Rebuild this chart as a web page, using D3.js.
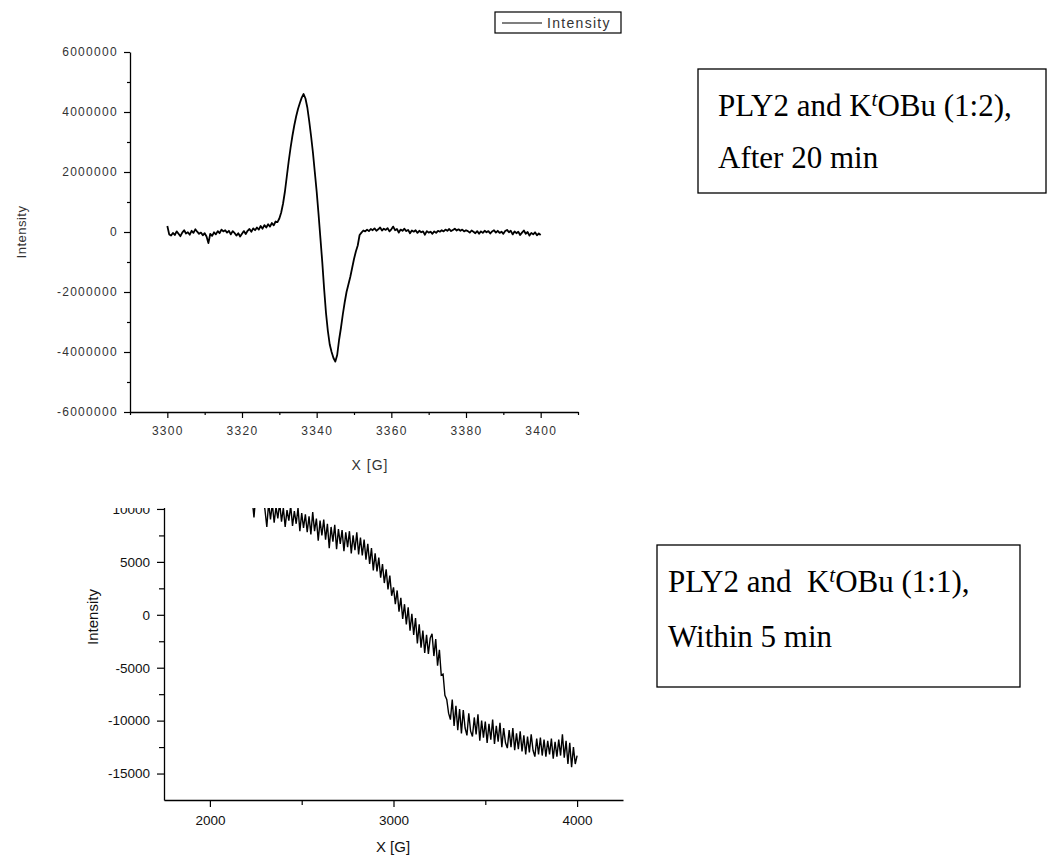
<!DOCTYPE html>
<html>
<head>
<meta charset="utf-8">
<script src="https://cdn.jsdelivr.net/npm/d3@7"></script>
<style>
body { margin: 0; background: #fff; }
svg { display: block; }
</style>
</head>
<body>
<svg id="chart" width="1047" height="861"></svg>
<script>

// ---- top spectrum (1:2, after 20 min), sampled every 0.5 G, values in thousands
var top_x_start = 3300
var top_x_step = 0.5
var top_intensity_k = [
	200,-80,-120,-30,-100,20,-60,-140,-20,60,
	-50,-10,-90,40,-30,90,10,-60,-20,-110,
	-40,-150,-370,-60,-130,-10,-80,30,-40,80,
	20,60,-20,40,-80,30,-30,-120,-40,-150,
	-60,30,-70,40,100,10,120,60,150,80,
	200,110,230,150,260,180,300,220,350,330,
	450,650,950,1350,1850,2350,2800,3200,3550,3850,
	4100,4300,4480,4600,4450,4150,3700,3200,2650,2000,
	1350,600,-200,-1000,-1900,-2700,-3300,-3750,-4000,-4200,
	-4320,-4100,-3600,-3200,-2750,-2350,-2000,-1750,-1500,-1200,
	-900,-650,-450,-100,-20,50,20,80,30,100,
	60,120,40,90,150,50,110,70,130,20,
	90,180,60,100,-20,80,40,110,30,70,
	-40,50,10,60,-30,40,-10,20,-90,30,
	-20,10,-60,20,-30,40,10,60,20,80,
	40,100,30,70,110,50,90,40,80,20,
	60,30,-20,50,10,-40,30,-60,20,-30,
	40,-10,30,-50,20,60,-20,40,-30,10,
	-60,30,70,-10,40,-80,20,-40,10,-100,
	-20,50,-60,0,-120,-30,-80,-10,-110,-50,
	-100
]
var top_x_domain = [3290, 3410]
var top_y_domain = [-6000000, 6000000]
var top_x_ticks = [3300, 3320, 3340, 3360, 3380, 3400]
var top_x_minor = [3290, 3310, 3330, 3350, 3370, 3390, 3410]
var top_y_ticks = [-6000000, -4000000, -2000000, 0, 2000000, 4000000, 6000000]
var top_y_minor = [-5000000, -3000000, -1000000, 1000000, 3000000, 5000000]

// ---- bottom spectrum (1:1, within 5 min), sampled every 10 G
var bottom_x_start = 2230
var bottom_x_step = 10
var bottom_intensity = [
	11000,9200,11300,10400,11600,10200,11100,9900,8300,10600,
	9000,10500,8700,10200,9100,10600,8800,10100,8300,9900,
	8900,10300,8400,9800,8600,10100,7900,9600,8200,9500,
	7800,9300,7600,9700,7900,9100,7000,8900,7500,9000,
	7100,8600,6300,8300,6900,8500,6200,8100,6700,8000,
	6000,7800,6400,7900,5800,7500,6100,7800,5700,7300,
	5600,7100,5200,6700,4800,6300,4200,5800,4100,5400,
	3500,4800,3000,4300,2400,3700,1800,2600,1000,2300,
	300,1600,-400,1000,-900,700,-1500,100,-1900,-300,
	-2700,-900,-3100,-1500,-3600,-1900,-3700,-2200,-1800,-3900,
	-2300,-4800,-3300,-5700,-5600,-7600,-8000,-9300,-9900,-8000,
	-10500,-8600,-10900,-8900,-11200,-9000,-10700,-11400,-9300,-11000,
	-11500,-9700,-11300,-9400,-11900,-10000,-11600,-10100,-12100,-10300,
	-11800,-9900,-12200,-10500,-12000,-10200,-12500,-10700,-12100,-12600,
	-10900,-12500,-10700,-12800,-11200,-12700,-11000,-12900,-11400,-13200,
	-11500,-13000,-11300,-12800,-13400,-11700,-13200,-11600,-13300,-11800,
	-13400,-11900,-13200,-11700,-13600,-12000,-13400,-11800,-13300,-11300,
	-13500,-11900,-14100,-12100,-14400,-12500,-14100,-13300
]
var bottom_x_domain = [1750, 4250]
var bottom_y_domain = [-17500, 12500]
var bottom_x_ticks = [2000, 3000, 4000]
var bottom_x_minor = [2500, 3500]
var bottom_y_ticks = [-15000, -10000, -5000, 0, 5000, 10000]
var bottom_y_minor = [-12500, -7500, -2500, 2500, 7500]

var note_top = ["PLY2 and K", "t", "OBu (1:2),", "After 20 min"]
var note_bottom = ["PLY2 and  K", "t", "OBu (1:1),", "Within 5 min"]

var sans = "'Liberation Sans', Arial, sans-serif"
var serif = "'Liberation Serif', 'Times New Roman', serif"

var svg = d3.select("#chart")

function plain(d) { return String(d) }

function draw_axes(g, x, y, opts) {
	var xg = g.append("g").attr("transform", "translate(0," + y.range()[0] + ")")
	xg.call(d3.axisBottom(x).tickValues(opts.x_ticks).tickFormat(plain)
		.tickSize(opts.major).tickSizeOuter(0).tickPadding(opts.x_pad))
	xg.append("g").call(d3.axisBottom(x).tickValues(opts.x_minor).tickFormat("")
		.tickSize(opts.minor).tickSizeOuter(0))
		.select(".domain").remove()

	var yg = g.append("g").attr("transform", "translate(" + x.range()[0] + ",0)")
	yg.call(d3.axisLeft(y).tickValues(opts.y_ticks).tickFormat(plain)
		.tickSize(opts.major).tickSizeOuter(0).tickPadding(opts.y_pad))
	yg.append("g").call(d3.axisLeft(y).tickValues(opts.y_minor).tickFormat("")
		.tickSize(opts.minor).tickSizeOuter(0))
		.select(".domain").remove()

	g.selectAll(".domain").attr("stroke", "#000").attr("stroke-width", 1.3)
	g.selectAll(".tick line").attr("stroke", "#000").attr("stroke-width", 1.2)
	g.selectAll(".tick text")
		.attr("font-family", sans)
		.attr("font-size", opts.font)
		.attr("letter-spacing", opts.spacing)
		.attr("fill", opts.colour)
}

function draw_note(lines, box, x0, y1, y2) {
	svg.append("rect")
		.attr("x", box[0]).attr("y", box[1])
		.attr("width", box[2]).attr("height", box[3])
		.attr("fill", "none").attr("stroke", "#000").attr("stroke-width", 1.3)

	var t = svg.append("text")
		.attr("x", x0).attr("y", y1)
		.attr("font-family", serif).attr("font-size", 31).attr("fill", "#000")
		.attr("xml:space", "preserve")
	t.append("tspan").text(lines[0])
	t.append("tspan").text(lines[1])
		.attr("font-style", "italic").attr("font-size", 21).attr("dy", -10)
	t.append("tspan").text(lines[2]).attr("dy", 10)

	svg.append("text")
		.attr("x", x0).attr("y", y2)
		.attr("font-family", serif).attr("font-size", 31).attr("fill", "#000")
		.text(lines[3])
}

// ---------------- top chart
var top_g = svg.append("g")
var top_x = d3.scaleLinear().domain(top_x_domain).range([130, 578])
var top_y = d3.scaleLinear().domain(top_y_domain).range([412, 52])

draw_axes(top_g, top_x, top_y, {
	x_ticks: top_x_ticks, x_minor: top_x_minor,
	y_ticks: top_y_ticks, y_minor: top_y_minor,
	major: 6, minor: 3, x_pad: 8, y_pad: 6,
	font: 12, spacing: 1.3, colour: "#333"
})

var top_data = _zip_x(top_x_start, top_x_step, top_intensity_k, 1000)

top_g.append("path")
	.datum(top_data)
	.attr("fill", "none")
	.attr("stroke", "#000")
	.attr("stroke-width", 1.8)
	.attr("stroke-linejoin", "round")
	.attr("d", d3.line().x(function(d) { return top_x(d[0]) }).y(function(d) { return top_y(d[1]) }))

top_g.append("text")
	.attr("x", 370).attr("y", 470)
	.attr("text-anchor", "middle")
	.attr("font-family", sans).attr("font-size", 14).attr("letter-spacing", 1)
	.attr("fill", "#333")
	.text("X [G]")

top_g.append("text")
	.attr("transform", "translate(26,232) rotate(-90)")
	.attr("text-anchor", "middle")
	.attr("font-family", sans).attr("font-size", 13).attr("letter-spacing", 0.5)
	.attr("fill", "#333")
	.text("Intensity")

// legend
var legend = top_g.append("g")
legend.append("rect")
	.attr("x", 495).attr("y", 12).attr("width", 126).attr("height", 21)
	.attr("fill", "none").attr("stroke", "#000").attr("stroke-width", 1.2)
legend.append("line")
	.attr("x1", 502).attr("x2", 542).attr("y1", 23).attr("y2", 23)
	.attr("stroke", "#000").attr("stroke-width", 1.2)
legend.append("text")
	.attr("x", 547).attr("y", 28)
	.attr("font-family", sans).attr("font-size", 14).attr("letter-spacing", 1.3)
	.attr("fill", "#333")
	.text("Intensity")

// ---------------- bottom chart (top edge cut off, as in the source picture)
svg.append("clipPath").attr("id", "bottom_clip")
	.append("rect").attr("x", 0).attr("y", 508).attr("width", 1047).attr("height", 353)

var bottom_g = svg.append("g").attr("clip-path", "url(#bottom_clip)")
var bottom_x = d3.scaleLinear().domain(bottom_x_domain).range([164, 623])
var bottom_y = d3.scaleLinear().domain(bottom_y_domain).range([800, 482.5])

draw_axes(bottom_g, bottom_x, bottom_y, {
	x_ticks: bottom_x_ticks, x_minor: bottom_x_minor,
	y_ticks: bottom_y_ticks, y_minor: bottom_y_minor,
	major: 7, minor: 5, x_pad: 8, y_pad: 7,
	font: 13.5, spacing: 0, colour: "#111"
})

var bottom_data = _zip_x(bottom_x_start, bottom_x_step, bottom_intensity, 1)

bottom_g.append("path")
	.datum(bottom_data)
	.attr("fill", "none")
	.attr("stroke", "#000")
	.attr("stroke-width", 1.4)
	.attr("stroke-linejoin", "miter")
	.attr("d", d3.line().x(function(d) { return bottom_x(d[0]) }).y(function(d) { return bottom_y(d[1]) }))

bottom_g.append("text")
	.attr("x", 393).attr("y", 852)
	.attr("text-anchor", "middle")
	.attr("font-family", sans).attr("font-size", 15)
	.attr("fill", "#111")
	.text("X [G]")

bottom_g.append("text")
	.attr("transform", "translate(98,617) rotate(-90)")
	.attr("text-anchor", "middle")
	.attr("font-family", sans).attr("font-size", 15)
	.attr("fill", "#111")
	.text("Intensity")

// ---------------- notes
draw_note(note_top, [698, 69, 348, 124], 718, 116, 168)
draw_note(note_bottom, [657, 545, 363, 142], 668, 592, 647)

// pair each sampled value with its field position
function _zip_x(start, step, values, unit) {
	return values.map(function(v, i) { return [start + i * step, v * unit] })
}

</script>
</body>
</html>
